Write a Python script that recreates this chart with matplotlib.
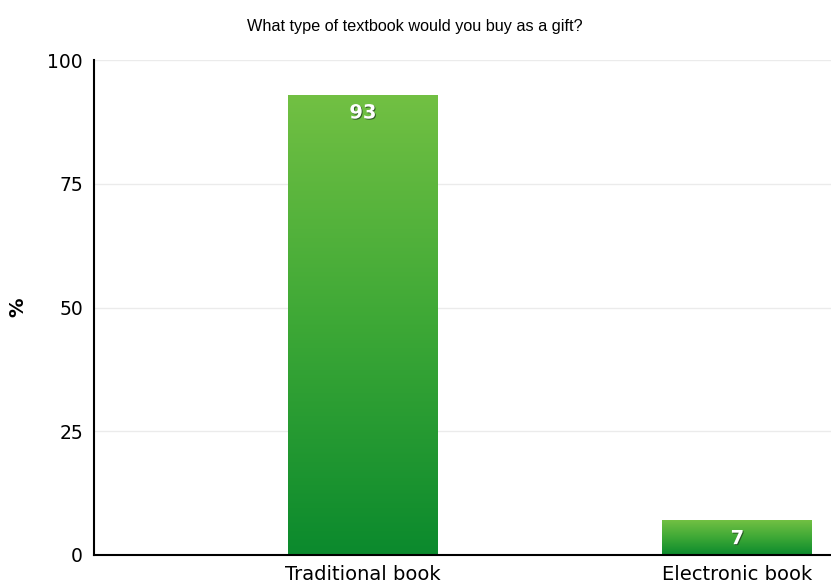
import numpy as np
import matplotlib.pyplot as plt
import matplotlib.patheffects as pe
from matplotlib.colors import LinearSegmentedColormap

categories = ["Traditional book", "Electronic book"]
values = [93, 7]
yticks = [0, 25, 50, 75, 100]

fig = plt.figure(figsize=(8.31, 5.85), dpi=100)
ax = fig.add_axes([94 / 831, 30 / 585, 737 / 831, 495 / 585])

x = np.arange(len(categories))
width = 0.4
bars = ax.bar(x, values, width=width, color="none", edgecolor="none", zorder=2)

# degrade vert clair en haut, vert fonce en bas
cmap = LinearSegmentedColormap.from_list("vert", ["#0b8a2d", "#3da836", "#72c043"])
grad = np.linspace(0, 1, 256).reshape(-1, 1)
for b in bars:
    x0, y0 = b.get_x(), b.get_y()
    w, h = b.get_width(), b.get_height()
    im = ax.imshow(grad, cmap=cmap, origin="lower", aspect="auto",
                   extent=[x0, x0 + w, y0, y0 + h], zorder=2)
    im.set_clip_path(b)

for xi, v in zip(x, values):
    ax.text(xi, v - 3.7, str(v), ha="center", va="center", color="white",
            fontsize=14, fontweight="bold", zorder=3,
            path_effects=[pe.withSimplePatchShadow(offset=(0.7, -0.7), shadow_rgbFace="#224422", alpha=0.8)])

ax.set_xlim(-0.718, 1.25)
ax.set_ylim(0, 100)
ax.set_yticks(yticks)
ax.set_xticks(x)
ax.set_xticklabels(categories, fontsize=14)
ax.tick_params(axis="both", length=0, colors="black")
ax.tick_params(axis="y", labelsize=13.5, pad=8)
ax.tick_params(axis="x", pad=7)
ax.grid(axis="y", color="#ebebeb", linewidth=1, zorder=0)
ax.set_axisbelow(True)

for s in ["top", "right"]:
    ax.spines[s].set_visible(False)
ax.spines["left"].set_linewidth(1.5)
ax.spines["bottom"].set_linewidth(1.5)

ax.set_ylabel("%", fontsize=14, fontweight="bold")
ax.yaxis.set_label_coords(-0.09, 0.5)
fig.text(415 / 831, 1 - 27 / 585, "What type of textbook would you buy as a gift?",
         ha="center", va="center", fontsize=11.7, family="Liberation Sans")

fig.savefig("out.png", dpi=100)
